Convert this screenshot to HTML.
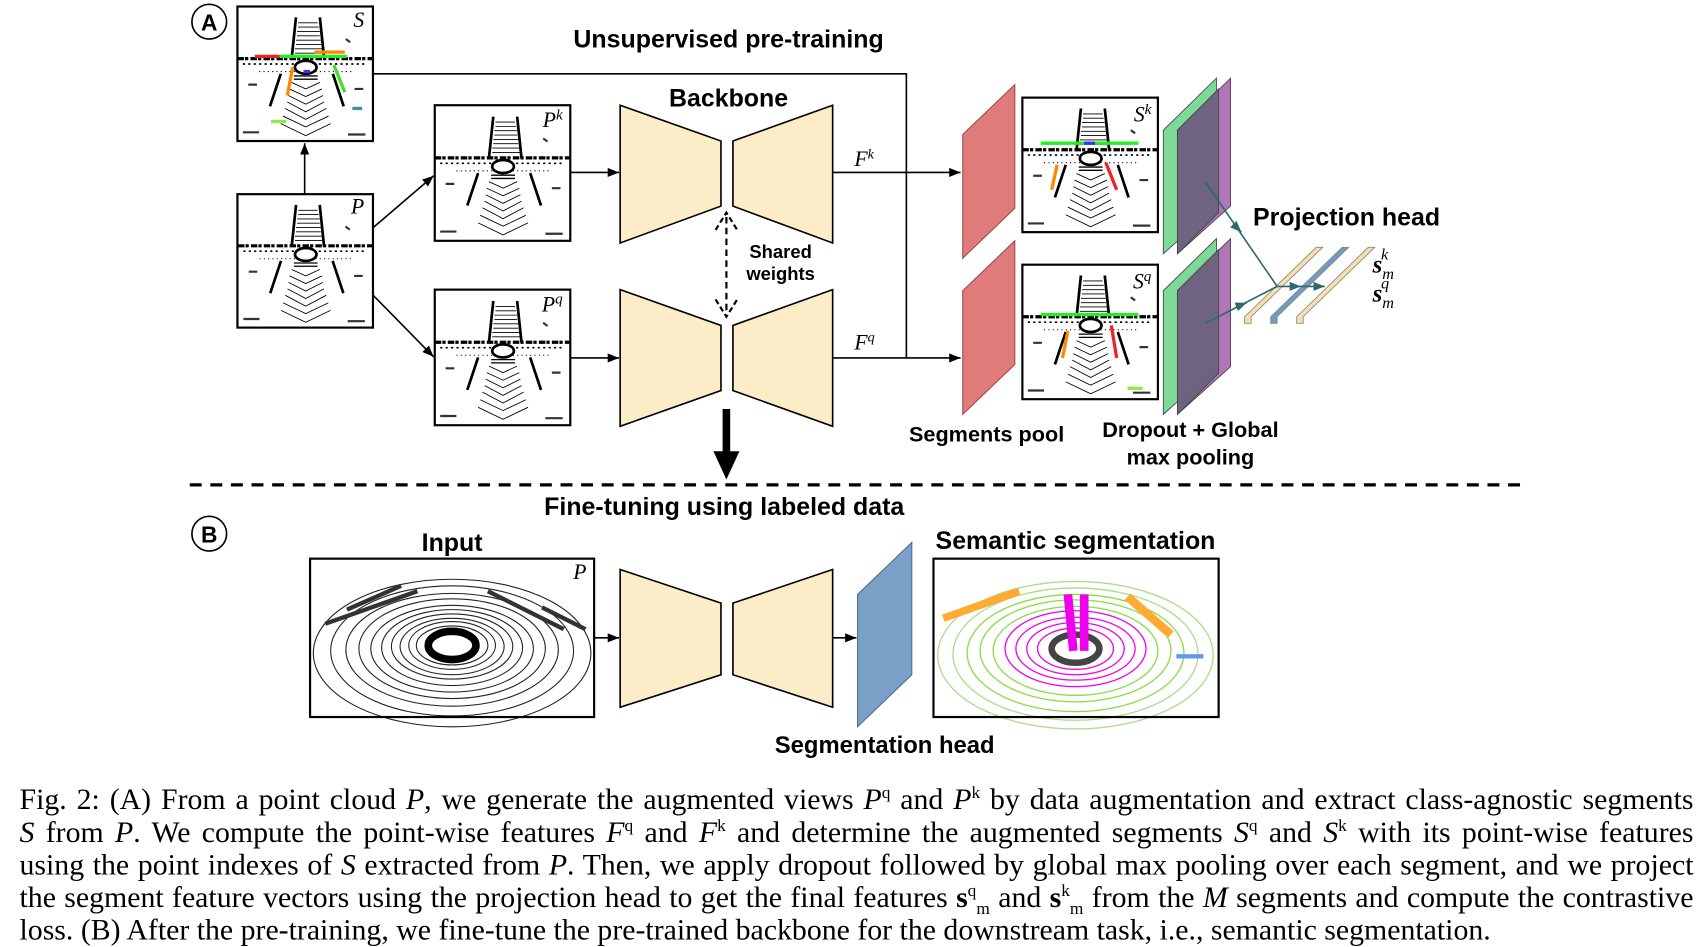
<!DOCTYPE html>
<html><head><meta charset="utf-8"><style>
html,body{margin:0;padding:0;background:#fff;}
#wrap{width:1568px;height:873px;transform:scale(1.08418,1.08476);transform-origin:0 0;position:relative;overflow:hidden;}
svg{position:absolute;left:0;top:0;}
.b{font-family:"Liberation Sans",sans-serif;font-weight:bold;fill:#000;}
.m{font-family:"Liberation Serif",serif;font-style:italic;fill:#000;}
#cap{position:absolute;left:18px;top:722px;width:1544px;font-family:"Liberation Serif",serif;font-size:27.5px;line-height:30px;color:#000;}
#cap div{text-align:justify;text-align-last:justify;white-space:nowrap;}
#cap div.l{text-align-last:left;}
#cap sup,#cap sub{font-size:16px;line-height:0;}
i{font-family:"Liberation Serif",serif;}
</style></head><body><div id="wrap">
<svg width="1568" height="873" viewBox="0 0 1568 873" font-size="23">
<defs>
<marker id="ar" viewBox="0 0 10 10" refX="10" refY="5" markerWidth="7" markerHeight="7" orient="auto"><path d="M0,1L10,5L0,9z" fill="#000"/></marker>
<marker id="art" viewBox="0 0 10 10" refX="10" refY="5" markerWidth="7" markerHeight="7" orient="auto"><path d="M0,1L10,5L0,9z" fill="#2f6a6a"/></marker>
<symbol id="pc" viewBox="0 0 125 124">
<g fill="none" stroke="#000" stroke-width="0.8">
<path d="M0,48 L125,48" stroke-width="3" stroke-dasharray="6 1 3 2"/>
<path d="M5,53 L120,53" stroke-width="1.5" stroke-dasharray="2 3"/>
<path d="M20,60 L105,60" stroke-width="1" stroke-dasharray="1 3"/>
<path d="M54,10 L50,48 M76,10 L80,48" stroke-width="2.5"/>
<path d="M56,15 H74 M56,19 H75 M55,23 H76 M55,27 H76 M54,31 H77 M54,35 H77 M53,39 H78 M53,43 H79"/>
<path d="M40,62 L30,92 M88,62 L98,92" stroke-width="2.5"/>
<path d="M50,70 L63,76 L76,70 M48,76 L63,83 L78,76 M47,82 L63,90 L79,82 M46,88 L63,97 L80,88 M44,94 L63,104 L82,94 M42,101 L63,111 L84,101 M40,108 L63,119 L86,108"/>
<path d="M52,64 H74 M52,67 H74" stroke-width="1.2"/>
<path d="M5,116 h15 M102,118 h16 M10,72 h8 M108,76 h8 M100,30 l4,3" stroke-width="2" stroke="#333"/>
</g>
<ellipse cx="63" cy="56" rx="10" ry="6" fill="#fff" stroke="#000" stroke-width="2.5"/>
</symbol>
</defs>
<circle cx="193" cy="20" r="16" fill="none" stroke="#000" stroke-width="1.5"/>
<text x="193" y="28" text-anchor="middle" class="b" style="font-size:21px">A</text>
<text x="672" y="44" text-anchor="middle" class="b" style="font-size:23px">Unsupervised pre-training</text>
<text x="672" y="98" text-anchor="middle" class="b" style="font-size:23px">Backbone</text>
<use href="#pc" x="219" y="6" width="125" height="124"/>
<g stroke-width="3" fill="none">
<path d="M258,52 H320" stroke="#2e2"/><path d="M235,52 H258" stroke="#e22"/><path d="M290,48 H318" stroke="#f80"/>
<path d="M270,62 L265,88" stroke="#f80"/><path d="M308,60 L318,85" stroke="#4d2"/><path d="M280,66 h6" stroke="#33f"/>
<path d="M250,112 h14" stroke="#8e4"/><path d="M325,100 h9" stroke="#399"/>
</g>
<rect x="219" y="6" width="125" height="124" fill="none" stroke="#000" stroke-width="2"/>
<text x="336" y="25" text-anchor="end" class="m" style="font-size:20px">S</text>
<use href="#pc" x="219" y="179" width="125" height="123"/>
<rect x="219" y="179" width="125" height="123" fill="none" stroke="#000" stroke-width="2"/>
<text x="336" y="197" text-anchor="end" class="m" style="font-size:20px">P</text>
<use href="#pc" x="401" y="97" width="125" height="125"/>
<rect x="401" y="97" width="125" height="125" fill="none" stroke="#000" stroke-width="2"/>
<text x="519" y="117" text-anchor="end" class="m" style="font-size:20px">P<tspan dy="-7" style="font-size:14px">k</tspan></text>
<use href="#pc" x="401" y="267" width="125" height="125"/>
<rect x="401" y="267" width="125" height="125" fill="none" stroke="#000" stroke-width="2"/>
<text x="519" y="287" text-anchor="end" class="m" style="font-size:20px">P<tspan dy="-7" style="font-size:14px">q</tspan></text>
<g stroke="#000" stroke-width="1.5" fill="none">
<path d="M281,179 V132" marker-end="url(#ar)"/>
<path d="M344,210 L400,162" marker-end="url(#ar)"/>
<path d="M344,272 L400,329" marker-end="url(#ar)"/>
<path d="M526,159 H571" marker-end="url(#ar)"/>
<path d="M526,330 H571" marker-end="url(#ar)"/>
<path d="M344,68 H836 V330"/>
<path d="M768,159 H886" marker-end="url(#ar)"/>
<path d="M768,330 H886" marker-end="url(#ar)"/>
<path d="M548,588 H571" marker-end="url(#ar)"/>
<path d="M768,588 H790" marker-end="url(#ar)"/>
</g>
<text x="788" y="153" class="m" style="font-size:20px">F<tspan dy="-7" style="font-size:13px">k</tspan></text>
<text x="788" y="322" class="m" style="font-size:20px">F<tspan dy="-7" style="font-size:13px">q</tspan></text>
<g fill="#fcedc8" stroke="#000" stroke-width="1.5">
<path d="M572,97 L665,130 L665,190 L572,224Z"/><path d="M676,130 L768,97 L768,224 L676,190Z"/>
<path d="M572,267 L665,300 L665,360 L572,393Z"/><path d="M676,300 L768,267 L768,393 L676,360Z"/>
<path d="M572,525 L665,556 L665,622 L572,652Z"/><path d="M676,556 L768,525 L768,652 L676,622Z"/>
</g>
<path d="M670,200 V287" stroke="#000" stroke-width="2" stroke-dasharray="6 4"/>
<path d="M660,212 L670,196 L680,212 M660,276 L670,292 L680,276" fill="none" stroke="#000" stroke-width="2" stroke-dasharray="5 3"/>
<text x="720" y="238" text-anchor="middle" class="b" style="font-size:17px">Shared</text>
<text x="720" y="258" text-anchor="middle" class="b" style="font-size:17px">weights</text>
<path d="M670,377 V420" stroke="#000" stroke-width="7"/>
<path d="M658,416 L682,416 L670,442Z" fill="#000"/>
<g fill="#e07b7b" stroke="#a04848" stroke-width="1">
<path d="M888,124 L936,78 L936,192 L888,238Z"/><path d="M888,268 L936,222 L936,336 L888,382Z"/>
</g>
<use href="#pc" x="943" y="90" width="125" height="124"/>
<g stroke-width="3"><path d="M960,132 H1050" stroke="#2e2"/><path d="M975,152 L970,175" stroke="#f80"/><path d="M1020,150 L1030,175" stroke="#e22"/><path d="M1000,132 h10" stroke="#33f"/></g>
<rect x="943" y="90" width="125" height="124" fill="none" stroke="#000" stroke-width="2"/>
<text x="1062" y="112" text-anchor="end" class="m" style="font-size:20px">S<tspan dy="-7" style="font-size:14px">k</tspan></text>
<use href="#pc" x="943" y="244" width="125" height="124"/>
<g stroke-width="3"><path d="M960,290 H1050" stroke="#2e2"/><path d="M985,305 L980,330" stroke="#f80"/><path d="M1025,300 L1030,330" stroke="#e22"/><path d="M1040,358 h14" stroke="#8e4"/></g>
<rect x="943" y="244" width="125" height="124" fill="none" stroke="#000" stroke-width="2"/>
<text x="1062" y="266" text-anchor="end" class="m" style="font-size:20px">S<tspan dy="-7" style="font-size:14px">q</tspan></text>
<g stroke="#444" stroke-width="0.8">
<path d="M1073,120 L1122,72 L1122,190 L1073,234Z" fill="#7ed89a"/>
<path d="M1086,120 L1135,72 L1135,190 L1086,234Z" fill="#b076b8"/>
<path d="M1086,120 L1124,82 L1124,196 L1086,234Z" fill="#6e6480"/>
<path d="M1073,268 L1122,220 L1122,338 L1073,382Z" fill="#7ed89a"/>
<path d="M1086,268 L1135,220 L1135,338 L1086,382Z" fill="#b076b8"/>
<path d="M1086,268 L1124,230 L1124,344 L1086,382Z" fill="#6e6480"/>
</g>
<g stroke="#887" stroke-width="0.8">
<path d="M1148,292 L1214,228 L1220,228 L1154,292 L1154,298 L1148,298Z" fill="#f5deb3"/>
<path d="M1172,292 L1238,228 L1244,228 L1178,292 L1178,298 L1172,298Z" fill="#6f9bc8"/>
<path d="M1196,292 L1262,228 L1268,228 L1202,292 L1202,298 L1196,298Z" fill="#f5deb3"/>
</g>
<g stroke="#2f6a6a" stroke-width="1.5" fill="none">
<path d="M1112,168 L1178,264" /><path d="M1140,209 L1145,214" marker-end="url(#art)"/>
<path d="M1112,298 L1178,264"/><path d="M1140,283 L1150,279" marker-end="url(#art)"/>
<path d="M1178,264 H1200" marker-end="url(#art)"/><path d="M1200,264 H1222" marker-end="url(#art)"/>
</g>
<text x="1242" y="208" text-anchor="middle" class="b" style="font-size:23px">Projection head</text>
<text x="1266" y="251" class="m" style="font-size:23px;font-weight:bold">s<tspan dy="6" style="font-size:15px;font-weight:normal">m</tspan><tspan dx="-12" dy="-18" style="font-size:15px;font-weight:normal">k</tspan></text>
<text x="1266" y="278" class="m" style="font-size:23px;font-weight:bold">s<tspan dy="6" style="font-size:15px;font-weight:normal">m</tspan><tspan dx="-12" dy="-18" style="font-size:15px;font-weight:normal">q</tspan></text>
<text x="910" y="407" text-anchor="middle" class="b" style="font-size:20px">Segments pool</text>
<text x="1098" y="403" text-anchor="middle" class="b" style="font-size:20px">Dropout + Global</text>
<text x="1098" y="428" text-anchor="middle" class="b" style="font-size:20px">max pooling</text>
<path d="M175,447 H1405" stroke="#000" stroke-width="3" stroke-dasharray="11 8"/>
<text x="668" y="475" text-anchor="middle" class="b" style="font-size:23px">Fine-tuning using labeled data</text>
<circle cx="193" cy="492" r="16" fill="none" stroke="#000" stroke-width="1.5"/>
<text x="193" y="500" text-anchor="middle" class="b" style="font-size:21px">B</text>
<text x="417" y="508" text-anchor="middle" class="b" style="font-size:23px">Input</text>
<text x="992" y="506" text-anchor="middle" class="b" style="font-size:23px">Semantic segmentation</text>
<g fill="none" stroke="#222" stroke-width="1">
<ellipse cx="417" cy="595" rx="22" ry="13" stroke-width="7" stroke="#000"/>
<ellipse cx="417" cy="595" rx="33" ry="18"/><ellipse cx="417" cy="595" rx="40" ry="22"/><ellipse cx="417" cy="596" rx="48" ry="26"/><ellipse cx="417" cy="596" rx="56" ry="30"/><ellipse cx="417" cy="597" rx="65" ry="35"/><ellipse cx="417" cy="598" rx="75" ry="40"/><ellipse cx="417" cy="598" rx="86" ry="46"/><ellipse cx="417" cy="599" rx="98" ry="52"/><ellipse cx="417" cy="600" rx="112" ry="60"/><ellipse cx="417" cy="602" rx="128" ry="68"/>
<path d="M300,575 L385,545 M320,562 L370,540 M450,545 L520,580 M500,560 L540,580" stroke-width="4" stroke="#333"/>
</g>
<rect x="286" y="515" width="262" height="146" fill="none" stroke="#000" stroke-width="2"/>
<text x="541" y="534" text-anchor="end" class="m" style="font-size:20px">P</text>
<g fill="none" stroke-width="1.2">
<ellipse cx="992" cy="598" rx="22" ry="13" stroke="#444" stroke-width="6"/>
<ellipse cx="992" cy="598" rx="35" ry="19" stroke="#e0e"/><ellipse cx="992" cy="598" rx="45" ry="24" stroke="#e0e"/><ellipse cx="992" cy="598" rx="55" ry="29" stroke="#e0e"/><ellipse cx="992" cy="598" rx="65" ry="35" stroke="#e0e"/>
<ellipse cx="992" cy="600" rx="76" ry="41" stroke="#8d4"/><ellipse cx="992" cy="600" rx="88" ry="47" stroke="#8d4"/><ellipse cx="992" cy="602" rx="100" ry="54" stroke="#8d4"/><ellipse cx="992" cy="603" rx="113" ry="61" stroke="#ad8"/><ellipse cx="992" cy="604" rx="127" ry="68" stroke="#ad8"/>
<path d="M985,548 L990,600 M1000,548 L1000,600" stroke="#e0e" stroke-width="8"/>
<path d="M870,570 L940,545" stroke="#fa3" stroke-width="7"/><path d="M1040,550 L1080,585" stroke="#fa3" stroke-width="8"/>
<path d="M1085,605 h25" stroke="#69e" stroke-width="4"/>
</g>
<rect x="861" y="515" width="263" height="146" fill="none" stroke="#000" stroke-width="2"/>
<path d="M791,548 L841,500 L841,622 L791,670Z" fill="#7aa0c8" stroke="#4a6f98"/>
<text x="816" y="694" text-anchor="middle" class="b" style="font-size:22px">Segmentation head</text>
</svg>
<div id="cap">
<div>Fig. 2: (A) From a point cloud <i>P</i>, we generate the augmented views <i>P</i><sup>q</sup> and <i>P</i><sup>k</sup> by data augmentation and extract class-agnostic segments</div>
<div><i>S</i> from <i>P</i>. We compute the point-wise features <i>F</i><sup>q</sup> and <i>F</i><sup>k</sup> and determine the augmented segments <i>S</i><sup>q</sup> and <i>S</i><sup>k</sup> with its point-wise features</div>
<div>using the point indexes of <i>S</i> extracted from <i>P</i>. Then, we apply dropout followed by global max pooling over each segment, and we project</div>
<div>the segment feature vectors using the projection head to get the final features <b>s</b><sup>q</sup><sub>m</sub> and <b>s</b><sup>k</sup><sub>m</sub> from the <i>M</i> segments and compute the contrastive</div>
<div class="l">loss. (B) After the pre-training, we fine-tune the pre-trained backbone for the downstream task, i.e., semantic segmentation.</div>
</div>
</div></body></html>
